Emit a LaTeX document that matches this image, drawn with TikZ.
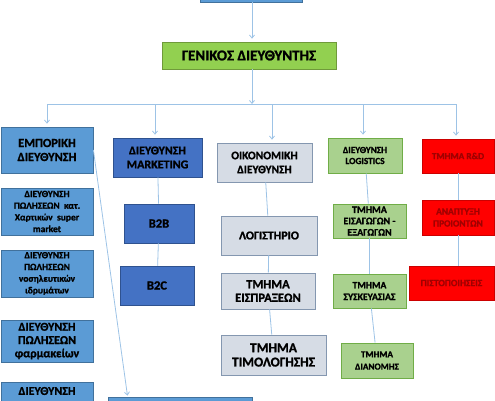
\documentclass[tikz,border=0pt]{standalone}
\usepackage{fontspec}
\setmainfont{Carlito}[BoldFeatures={FakeBold=1.2}]
\usetikzlibrary{arrows.meta, positioning}

\definecolor{linkblue}{HTML}{9DC3E6}
\definecolor{midblue}{HTML}{5B9BD5}
\definecolor{midblueline}{HTML}{41719C}
\definecolor{darkblue}{HTML}{4472C4}
\definecolor{darkblueline}{HTML}{2F528F}
\definecolor{greyfill}{HTML}{D6DCE5}
\definecolor{greyline}{HTML}{8497B0}
\definecolor{gmgreen}{HTML}{92D050}
\definecolor{gmline}{HTML}{6F9A3A}
\definecolor{paleg}{HTML}{A9D18E}
\definecolor{palegline}{HTML}{70AD47}
\definecolor{rdred}{HTML}{FF0000}
\definecolor{rdtext}{HTML}{A00000}

\newcommand{\fs}[2]{\bfseries\fontsize{#1}{#2}\selectfont}

\begin{document}
\begin{tikzpicture}[
    x=1pt, y=-1pt,
    unit/.style={draw, thick, align=center, inner sep=0pt, font=\bfseries},
    sales/.style={unit, fill=midblue, draw=midblueline},
    mktbox/.style={unit, fill=darkblue, draw=darkblueline},
    finbox/.style={unit, fill=greyfill, draw=greyline},
    logbox/.style={unit, fill=paleg, draw=palegline},
    rdbox/.style={unit, fill=rdred, draw=rdred!80!black, text=rdtext},
    link/.style={draw=linkblue, line width=0.8pt},
    flow/.style={link, -{Straight Barb[length=3pt, width=5pt]}, shorten >=3pt}
]
\useasboundingbox (0,0) rectangle (495,400);

\node[sales, minimum width=102pt, minimum height=40pt] (top) at (251,-18) {};
\node[unit, fill=gmgreen, draw=gmline, minimum width=174pt, minimum height=27pt,
      font=\fs{15}{16}] (gm) at (249,55.5) {ΓΕΝΙΚΟΣ ΔΙΕΥΘΥΝΤΗΣ};

\coordinate (bus) at (252,104);
\coordinate (busL) at (47,104);
\coordinate (busR) at (456,104);

% commercial
\node[sales, minimum width=92pt, minimum height=46pt, font=\fs{12.4}{14}] (emp) at (47,150) {ΕΜΠΟΡΙΚΗ\\ΔΙΕΥΘΥΝΣΗ};
\node[sales, minimum width=92pt, minimum height=47pt, font=\fs{9.5}{11.7}] (s1) at (47,211.5) {ΔΙΕΥΘΥΝΣΗ\\ΠΩΛΗΣΕΩΝ~~κατ.\\Χαρτικών~~super\\market};
\node[sales, minimum width=92pt, minimum height=47pt, font=\fs{9.5}{11.7}] (s2) at (47,273.5) {ΔΙΕΥΘΥΝΣΗ\\ΠΩΛΗΣΕΩΝ\\νοσηλευτικών\\ιδρυμάτων};
\node[sales, minimum width=92pt, minimum height=42pt, font=\fs{12}{13.3}] (s3) at (47,341) {ΔΙΕΥΘΥΝΣΗ\\ΠΩΛΗΣΕΩΝ\\φαρμακείων};
\node[sales, minimum width=92pt, inner ysep=4pt, text height=8.5pt, text depth=32pt,
      anchor=north, font=\fs{12}{13.3}] (s4) at (47,382) {ΔΙΕΥΘΥΝΣΗ};
\node[sales, minimum width=144pt, minimum height=40pt] (bot) at (180,417) {};

% marketing
\node[mktbox, minimum width=89pt, minimum height=39pt, font=\fs{12}{14}] (mkt) at (157.5,157.5) {ΔΙΕΥΘΥΝΣΗ\\MARKETING};
\node[mktbox, minimum width=70pt, minimum height=39pt, font=\fs{12.5}{14}] (b2b) at (159,223.5) {B2B};
\node[mktbox, minimum width=74pt, minimum height=39pt, font=\fs{12.5}{14}] (b2c) at (157,285.5) {B2C};

% finance
\node[finbox, minimum width=95pt, minimum height=39pt, font=\fs{11.5}{14}] (oik) at (264.5,162.5) {ΟΙΚΟΝΟΜΙΚΗ\\ΔΙΕΥΘΥΝΣΗ};
\node[finbox, minimum width=96pt, minimum height=39pt, font=\fs{12}{14}] (acc) at (269,235.5) {ΛΟΓΙΣΤΗΡΙΟ};
\node[finbox, minimum width=94pt, minimum height=36pt, font=\fs{12.5}{13.5}] (eis) at (268,291) {ΤΜΗΜΑ\\ΕΙΣΠΡΑΞΕΩΝ};
\node[finbox, minimum width=105pt, minimum height=40pt, font=\fs{13.5}{14.3}] (tim) at (273.5,355) {ΤΜΗΜΑ\\ΤΙΜΟΛΟΓΗΣΗΣ};

% logistics
\node[logbox, minimum width=74pt, minimum height=35pt, font=\fs{9.3}{11}] (lgs) at (365,155.5) {ΔΙΕΥΘΥΝΣΗ\\LOGISTICS};
\node[logbox, minimum width=73pt, minimum height=34pt, font=\fs{10}{11.3}] (imp) at (369.5,221) {ΤΜΗΜΑ\\ΕΙΣΑΓΩΓΩΝ -\\ΕΞΑΓΩΓΩΝ};
\node[logbox, minimum width=73pt, minimum height=34pt, font=\fs{9.7}{11.7}] (pck) at (369.5,291) {ΤΜΗΜΑ\\ΣΥΣΚΕΥΑΣΙΑΣ};
\node[logbox, minimum width=72pt, minimum height=35pt, font=\fs{9.2}{12.3}] (dst) at (377,360.5) {ΤΜΗΜΑ\\ΔΙΑΝΟΜΗΣ};

% r&d
\node[rdbox, minimum width=72pt, minimum height=34pt, font=\fs{9.3}{11}] (rnd) at (458,156) {ΤΜΗΜΑ R\&D};
\node[rdbox, minimum width=72pt, minimum height=35pt, font=\fs{9.4}{12}] (dev) at (458,217.5) {ΑΝΑΠΤΥΞΗ\\ΠΡΟΙΟΝΤΩΝ};
\node[rdbox, minimum width=85pt, minimum height=34pt, font=\fs{9.6}{11}] (cert) at (451.5,283) {ΠΙΣΤΟΠΟΙΗΣΕΙΣ};

\draw[flow] (top.south -| bus) -- (gm.north -| bus);
\draw[flow, shorten >=0pt] (gm.south -| bus) -- (bus);
\draw[link] (busL) -- (busR);

\draw[flow] (busL) -- (emp.north -| busL);
\draw[flow] (bus -| 155,0) -- (mkt.north -| 155,0);
\draw[flow] (bus -| 272,0) -- (oik.north -| 272,0);
\draw[flow] (bus -| 363,0) -- (lgs.north -| 363,0);
\draw[flow] (busR) -- (rnd.north -| busR);

\draw[flow, shorten >=1pt] (emp.east) -- ([xshift=20pt]bot.north west);

\draw[link] (mkt) -- (b2b);
\draw[link] (b2b) -- (b2c);

\draw[link] (oik) -- (acc);
\draw[link] (acc) -- (eis);
\draw[link] (eis) -- (tim);

\draw[link] (lgs) -- (imp);
\draw[link] (imp) -- (pck);
\draw[link] (pck) -- (dst);

\draw[link] (rnd) -- (dev);
\draw[link] (dev) -- (cert.north -| dev);
\end{tikzpicture}
\end{document}
